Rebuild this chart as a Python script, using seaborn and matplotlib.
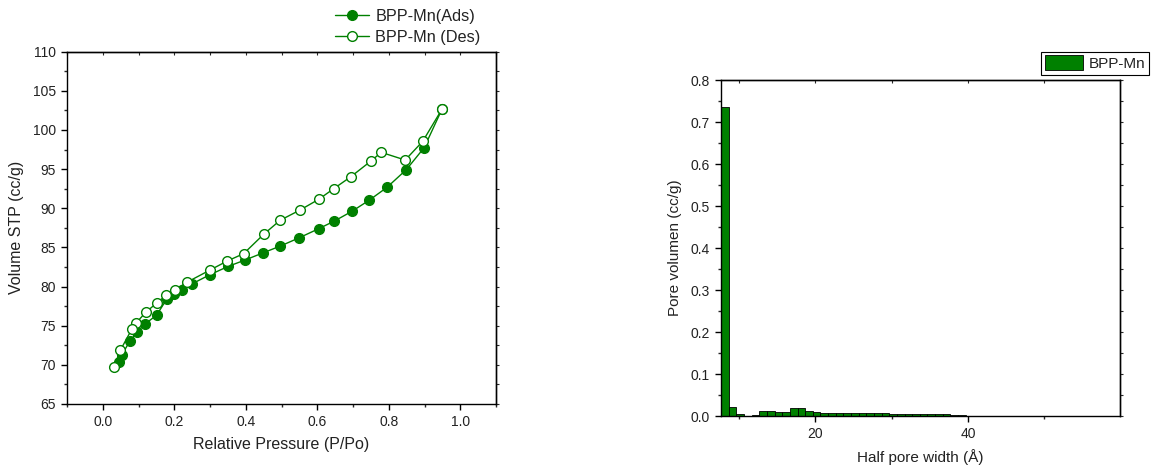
import matplotlib

matplotlib.use("Agg")
import matplotlib.pyplot as plt   # noqa: E402
import pandas as pd                # noqa: E402
import seaborn as sns              # noqa: E402
from matplotlib.ticker import MultipleLocator, NullFormatter  # noqa: E402

GREEN = "#008000"

# --- isotherm (left) ---
ads_p = [0.044, 0.053, 0.076, 0.095, 0.117, 0.151, 0.179, 0.200, 0.221, 0.249,
         0.300, 0.351, 0.398, 0.447, 0.497, 0.550, 0.604, 0.648, 0.697, 0.746,
         0.795, 0.849, 0.899, 0.949]
ads_v = [70.4, 71.26, 73.05, 74.15, 75.17, 76.37, 78.41, 79.0, 79.6, 80.33,
         81.52, 82.58, 83.39, 84.28, 85.18, 86.24, 87.39, 88.37, 89.61, 91.05,
         92.67, 94.93, 97.74, 102.67]
des_p = [0.949, 0.895, 0.846, 0.779, 0.750, 0.694, 0.646, 0.604, 0.552, 0.496,
         0.450, 0.394, 0.348, 0.300, 0.235, 0.201, 0.177, 0.151, 0.121, 0.093,
         0.081, 0.049, 0.032]
des_v = [102.67, 98.55, 96.16, 97.14, 96.03, 94.03, 92.5, 91.14, 89.78, 88.46,
         86.67, 84.2, 83.26, 82.11, 80.54, 79.56, 78.88, 77.9, 76.75, 75.34,
         74.54, 71.85, 69.73]

# --- pore size distribution (right) ---
pore_width = [8.2, 9.2, 10.2, 11.2, 12.2, 13.2, 14.2, 15.2, 16.2, 17.2,
              18.2, 19.2, 20.2, 21.2, 22.2, 23.2, 24.2, 25.2, 26.2, 27.2,
              28.2, 29.2, 30.2, 31.2, 32.2, 33.2, 34.2, 35.2, 36.2, 37.2,
              38.2, 39.2, 40.2, 41.2, 42.2, 43.2, 44.2, 45.2, 46.2, 47.2,
              48.2, 49.2, 50.2, 51.2, 52.2, 53.2, 54.2, 55.2, 56.2, 57.2, 58.2]
pore_vol = [0.735, 0.021, 0.004, 0.0, 0.003, 0.013, 0.013, 0.010, 0.010, 0.018,
            0.019, 0.013, 0.009, 0.008, 0.008, 0.008, 0.008, 0.008, 0.008, 0.008,
            0.007, 0.007, 0.006, 0.006, 0.005, 0.005, 0.005, 0.005, 0.005, 0.005,
            0.002, 0.002, 0.0008, 0.0008, 0.0008, 0.0008, 0.0008, 0.0008, 0.0008, 0.0008,
            0.0008, 0.0008, 0.0008, 0.0008, 0.0008, 0.0008, 0.0008, 0.0008, 0.0008, 0.0008, 0.0008]

sns.set_style("ticks")
plt.rcParams["font.family"] = ["Liberation Sans", "DejaVu Sans"]
plt.rcParams["axes.linewidth"] = 1.0
plt.rcParams["text.color"] = "#222222"
plt.rcParams["axes.labelcolor"] = "#222222"

fig = plt.figure(figsize=(11.6, 4.72), dpi=100)
ax1 = fig.add_axes([0.0578, 0.1441, 0.3698, 0.7464])
ax2 = fig.add_axes([0.6216, 0.1186, 0.3440, 0.7119])

ads = pd.DataFrame({"p": ads_p, "v": ads_v})
des = pd.DataFrame({"p": des_p, "v": des_v})
sns.lineplot(data=ads, x="p", y="v", sort=False, ax=ax1,
             color=GREEN, lw=1, marker="o", ms=7, mfc=GREEN, mec=GREEN, mew=1,
             label="BPP-Mn(Ads)")
sns.lineplot(data=des, x="p", y="v", sort=False, ax=ax1,
             color=GREEN, lw=1, marker="o", ms=7, mfc="white", mec=GREEN, mew=1,
             label="BPP-Mn (Des)")
ax1.set_xlim(-0.1, 1.1); ax1.set_ylim(65, 110)
ax1.xaxis.set_major_locator(MultipleLocator(0.2)); ax1.xaxis.set_minor_locator(MultipleLocator(0.1))
ax1.yaxis.set_major_locator(MultipleLocator(5)); ax1.yaxis.set_minor_locator(MultipleLocator(2.5))
ax1.xaxis.set_major_formatter(plt.FuncFormatter(lambda v, _: f"{v:.1f}"))
ax1.set_xlabel("Relative Pressure (P/Po)", fontsize=11.5, labelpad=6)
ax1.set_ylabel("Volume STP (cc/g)", fontsize=11.5, labelpad=6)
h, l = ax1.get_legend_handles_labels()
ax1.get_legend().remove()
fig.legend(h, l, loc="upper left", bbox_to_anchor=(0.276, 1.012), frameon=False,
           fontsize=11.7, handlelength=2.1, handletextpad=0.4, labelspacing=0.35)

pores = pd.DataFrame({"width": pore_width, "vol": pore_vol})
sns.histplot(data=pores, x="width", weights="vol", binwidth=1,
             binrange=(pore_width[0] - 0.5, pore_width[-1] + 0.5), ax=ax2, color=GREEN,
             edgecolor="black", linewidth=0.6, alpha=1, label="BPP-Mn")
ax2.set_xlim(7.7, 59.9); ax2.set_ylim(0, 0.8)
ax2.xaxis.set_major_locator(MultipleLocator(20)); ax2.xaxis.set_minor_locator(MultipleLocator(10))
ax2.yaxis.set_major_locator(MultipleLocator(0.1)); ax2.yaxis.set_minor_locator(MultipleLocator(0.05))
ax2.yaxis.set_major_formatter(plt.FuncFormatter(lambda v, _: f"{v:.1f}"))
ax2.set_xlabel("Half pore width (Å)", fontsize=11, labelpad=6)
ax2.set_ylabel("Pore volumen (cc/g)", fontsize=11, labelpad=6)
leg = ax2.legend(loc="upper right", bbox_to_anchor=(0.9974, 0.907),
                 bbox_transform=fig.transFigure, fontsize=11, fancybox=False,
                 edgecolor="black", framealpha=1, handlelength=2.5, handleheight=1.1,
                 borderpad=0.25, handletextpad=0.4)
leg.get_frame().set_linewidth(0.8)

for ax in (ax1, ax2):
    for s in ax.spines.values():
        s.set_visible(True); s.set_color("black"); s.set_linewidth(1.0)
    ax.tick_params(which="major", direction="out", length=4.5, width=1, labelsize=10,
                   colors="black", labelcolor="#222222")
    ax.tick_params(which="minor", direction="out", length=2.5, width=1)
    # small mirrored ticks on top (inward) and right (outward)
    top = ax.secondary_xaxis("top")
    top.xaxis.set_major_locator(ax.xaxis.get_major_locator())
    top.xaxis.set_minor_locator(ax.xaxis.get_minor_locator())
    top.xaxis.set_major_formatter(NullFormatter())
    top.tick_params(which="both", direction="in", length=2, width=0.8)
    top.spines["top"].set_linewidth(1.0)
    right = ax.secondary_yaxis("right")
    right.yaxis.set_major_locator(ax.yaxis.get_major_locator())
    right.yaxis.set_minor_locator(ax.yaxis.get_minor_locator())
    right.yaxis.set_major_formatter(NullFormatter())
    right.tick_params(which="both", direction="out", length=2, width=0.8)
    right.spines["right"].set_linewidth(1.0)

fig.savefig("out.png", dpi=100)
plt.close(fig)
